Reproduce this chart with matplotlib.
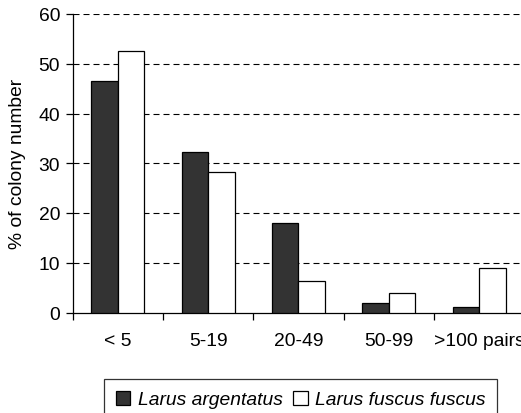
import matplotlib
matplotlib.use("Agg")
import matplotlib.pyplot as plt
from matplotlib.patches import Patch
import numpy as np

categories = ["< 5", "5-19", "20-49", "50-99", ">100 pairs"]
argentatus = [46.5, 32.2, 17.9, 2.0, 1.1]
fuscus = [52.6, 28.3, 6.4, 3.9, 8.9]
series_names = ["Larus argentatus", "Larus fuscus fuscus"]
yticks = [0, 10, 20, 30, 40, 50, 60]

plt.rcParams['font.family'] = ['Liberation Sans', 'DejaVu Sans']
FS = 13.9

fig = plt.figure(figsize=(5.21, 4.14), dpi=100)
ax = fig.add_axes([72.7/521, 1-313.5/414, 451.5/521, 298.5/414])

x = np.arange(len(categories))
w = 0.293
ax.bar(x - w/2, argentatus, width=w, color="#333333", edgecolor="black", linewidth=0.9, zorder=3)
ax.bar(x + w/2, fuscus, width=w, color="white", edgecolor="black", linewidth=0.9, zorder=3)

ax.set_xlim(-0.5, len(categories) - 0.5)
ax.set_ylim(0, 60)
ax.set_yticks(yticks)
ax.set_yticklabels([str(v) for v in yticks], fontsize=FS)
ax.set_xticks(x)
ax.set_xticklabels(categories, fontsize=FS)
ax.tick_params(axis='x', which='major', length=0, pad=14)
ax.set_xticks(np.arange(len(categories) + 1) - 0.5, minor=True)
ax.tick_params(axis='x', which='minor', length=5, width=0.9, direction='out')
ax.tick_params(axis='y', length=5, width=0.9, direction='out', pad=4)

for v in yticks[1:]:
    ax.axhline(v, color="black", linewidth=0.8, linestyle=(0, (5.4, 3.6)), zorder=1)

for s in ["top", "right"]:
    ax.spines[s].set_visible(False)
for s in ["left", "bottom"]:
    ax.spines[s].set_linewidth(0.9)

ax.set_ylabel("% of colony number", fontsize=FS, labelpad=9)

handles = [Patch(facecolor="#333333", edgecolor="black", linewidth=0.9),
           Patch(facecolor="white", edgecolor="black", linewidth=0.9)]
leg = fig.legend(handles, series_names, loc="upper center",
                 bbox_to_anchor=(300.7/521, 1-380/414), ncol=2,
                 prop={'style': 'italic', 'size': FS}, frameon=True, fancybox=False,
                 edgecolor="black", handlelength=0.75, handleheight=0.75,
                 handletextpad=0.4, columnspacing=0.55, borderpad=0.6, borderaxespad=0)
leg.get_frame().set_linewidth(0.9)

fig.savefig("out.png", dpi=100)
